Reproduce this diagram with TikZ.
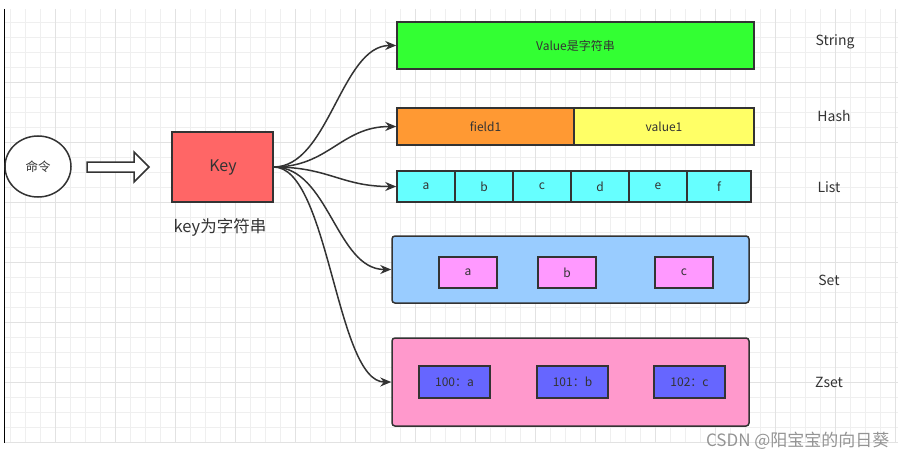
\documentclass[tikz,border=0pt]{standalone}
\usepackage{fontspec}
\setmainfont{Noto Sans CJK SC}
\usetikzlibrary{arrows.meta}
\usetikzlibrary{shapes.geometric}
\definecolor{ink}{HTML}{333333}
\definecolor{gridminor}{HTML}{EFEFEF}
\definecolor{gridmajor}{HTML}{E2E2E2}
\definecolor{keyred}{HTML}{FF6666}
\definecolor{strgreen}{HTML}{33FF33}
\definecolor{hashorange}{HTML}{FF9933}
\definecolor{hashyellow}{HTML}{FFFF66}
\definecolor{listcyan}{HTML}{66FFFF}
\definecolor{setblue}{HTML}{99CCFF}
\definecolor{setpink}{HTML}{FF99FF}
\definecolor{zsetpink}{HTML}{FF99CC}
\definecolor{zsetblue}{HTML}{6666FF}
\tikzset{
  box/.style={draw=ink, line width=1.5pt, inner sep=0pt, text=ink, font=\fontsize{12}{14}\selectfont},
  rbox/.style={box, rounded corners=3pt},
  typelabel/.style={text=ink, font=\fontsize{14}{16}\selectfont},
  link/.style={draw=ink, line width=1.5pt, -{Stealth[length=11pt,width=9pt]}}
}
\begin{document}
\begin{tikzpicture}[x=1pt,y=-1pt]
\useasboundingbox (0,0) rectangle (908,460);
% background grid
\foreach \x in {10,25,...,895} \draw[gridminor] (\x,9) -- (\x,443);
\foreach \y in {22,37,...,442} \draw[gridminor] (5,\y) -- (898,\y);
\foreach \x in {55,115,...,895} \draw[gridmajor] (\x,9) -- (\x,443);
\foreach \y in {82,142,...,442} \draw[gridmajor] (5,\y) -- (898,\y);
\draw[black, line width=1pt] (4.5,9) -- (4.5,443);

% command and key
\node[draw=ink, line width=1.5pt, ellipse, fill=white, minimum width=66pt, minimum height=61pt, inner sep=0pt, text=ink, font=\fontsize{12.5}{14}\selectfont] (cmd) at (38,166.5) {命令};
\draw[draw=ink, line width=1.5pt, fill=white] (87,162) -- (134,162) -- (134,152) -- (149,167) -- (134,182) -- (134,172) -- (87,172) -- cycle;
\node[box, fill=keyred, minimum width=101pt, minimum height=70pt, font=\fontsize{16}{18}\selectfont] (key) at (222.5,167) {};
\node[text=ink, font=\fontsize{16}{18}\selectfont] (keytext) at (223,168) {Key};
\node[text=ink, font=\fontsize{16.5}{18}\selectfont] (keynote) at (220,227) {key为字符串};

% string
\node[box, fill=strgreen, minimum width=357pt, minimum height=47pt] (str) at (575.5,45.5) {Value是字符串};
% hash
\node[box, fill=hashorange, minimum width=177pt, minimum height=37pt] (field) at (485.5,126.5) {field1};
\node[box, fill=hashyellow, minimum width=180pt, minimum height=37pt] (value) at (664,126.5) {value1};
% list
\foreach \t/\x/\w in {a/426/58, b/484/58, c/542/58, d/600/58, e/658/58, f/719/64}
  \node[box, fill=listcyan, minimum width=\w pt, minimum height=31pt] (cell\t) at (\x,186.5) {\t};
% set
\node[rbox, fill=setblue, minimum width=357pt, minimum height=67pt] (set) at (570.5,269.5) {};
\node[box, fill=setpink, minimum width=58pt, minimum height=31pt] (seta) at (468,272.5) {a};
\node[box, fill=setpink, minimum width=58pt, minimum height=31pt] (setb) at (567,272.5) {b};
\node[box, fill=setpink, minimum width=58pt, minimum height=31pt] (setc) at (684,272.5) {c};
% zset
\node[rbox, fill=zsetpink, minimum width=357pt, minimum height=88pt] (zset) at (570.5,382) {};
\node[box, fill=zsetblue, minimum width=71pt, minimum height=32pt] (za) at (454.5,382) {100：a};
\node[box, fill=zsetblue, minimum width=71pt, minimum height=32pt] (zb) at (572.5,382) {101：b};
\node[box, fill=zsetblue, minimum width=71pt, minimum height=32pt] (zc) at (689.5,382) {102：c};

% type names
\node[typelabel] (lstring) at (835,42) {String};
\node[typelabel] (lhash) at (834,116) {Hash};
\node[typelabel] (llist) at (829,187) {List};
\node[typelabel] (lset) at (829,280) {Set};
\node[typelabel] (lzset) at (829,382) {Zset};

% links
\draw[link] (key.east) .. controls +(55,0) and +(-55,0) .. (str.west);
\draw[link] (key.east) .. controls +(55,0) and +(-55,0) .. (field.west);
\draw[link] (key.east) .. controls +(55,0) and +(-55,0) .. (cella.west);
\draw[link] (key.east) .. controls +(55,0) and +(-55,0) .. (set.west);
\draw[link] (key.east) .. controls +(55,0) and +(-55,0) .. (zset.west);

\node[text=black!42, font=\fontsize{17}{19}\selectfont, anchor=east] (mark) at (893,441) {CSDN @阳宝宝的向日葵};
\end{tikzpicture}
\end{document}
